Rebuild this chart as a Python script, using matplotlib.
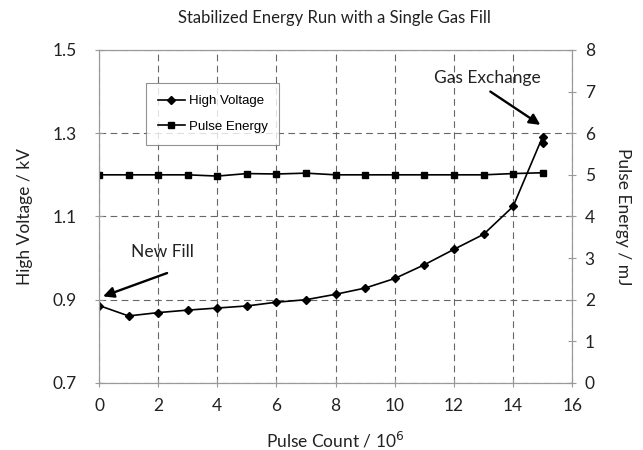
import matplotlib.pyplot as plt

# dados
pulsos = [0, 1, 2, 3, 4, 5, 6, 7, 8, 9, 10, 11, 12, 13, 14, 15, 15]
alta_tensao = [0.886, 0.861, 0.869, 0.875, 0.880, 0.885, 0.894, 0.900, 0.913,
               0.928, 0.951, 0.984, 1.021, 1.057, 1.124, 1.292, 1.277]

pulsos_e = [0, 1, 2, 3, 4, 5, 6, 7, 8, 9, 10, 11, 12, 13, 14, 15]
energia = [5.0, 5.0, 5.0, 5.0, 4.97, 5.03, 5.02, 5.04, 5.0, 5.0, 5.0, 5.0,
           5.0, 5.0, 5.03, 5.05]

plt.rcParams['font.family'] = ['Lato', 'DejaVu Sans']

fig = plt.figure(figsize=(6.43, 4.5), dpi=100)
ax = fig.add_axes([0.154, 0.149, 0.736, 0.74])
ax2 = ax.twinx()

cinza = '#999999'
texto = '#222222'

l1, = ax.plot(pulsos, alta_tensao, color='black', lw=1.2, marker='D', ms=4,
              label='High Voltage')
l2, = ax2.plot(pulsos_e, energia, color='black', lw=1.2, marker='s', ms=5,
               label='Pulse Energy')

ax.set_xlim(0, 16)
ax.set_ylim(0.7, 1.5)
ax2.set_ylim(0, 8)
ax.set_xticks(range(0, 17, 2))
ax.set_yticks([0.7, 0.9, 1.1, 1.3, 1.5])
ax2.set_yticks(range(0, 9))

ax.grid(True, color='#666666', ls=(0, (6, 4)), lw=0.8)
ax.set_axisbelow(True)

for a in (ax, ax2):
    for s in a.spines.values():
        s.set_color(cinza)
    a.tick_params(colors=cinza, labelcolor=texto, labelsize=12.5,
                  direction='inout', length=6)
ax.tick_params(axis='x', pad=8)
ax.tick_params(axis='y', pad=13)
ax2.tick_params(axis='y', pad=6)

ax.set_xlabel('Pulse Count / 10$^6$', fontsize=12.5, color=texto, labelpad=12)
ax.set_ylabel('High Voltage / kV', fontsize=12.5, color=texto, labelpad=14)
ax2.set_ylabel('Pulse Energy / mJ', fontsize=12.5, color=texto,
               rotation=270, labelpad=26)
fig.text(0.52, 0.96, 'Stabilized Energy Run with a Single Gas Fill',
         ha='center', va='center', fontsize=12, color=texto)

leg = ax.legend(handles=[l1, l2], loc='upper left',
                bbox_to_anchor=(0.1, 0.9), frameon=True,
                fancybox=False, edgecolor='#777777', handlelength=2.0,
                borderpad=0.9, labelspacing=1.0, handletextpad=0.3,
                borderaxespad=0,
                prop={'family': 'Liberation Sans', 'size': 9.5})
leg.get_frame().set_linewidth(0.8)

# anotações: texto e seta separados
seta = dict(arrowstyle='-|>', color='black', lw=1.7, mutation_scale=16,
            shrinkA=0, shrinkB=0)
ax.text(13.12, 1.432, 'Gas Exchange', fontsize=12.5, ha='center',
        va='center', color=texto)
ax.annotate('', xy=(14.92, 1.32), xytext=(13.23, 1.40), arrowprops=seta)
ax.text(2.13, 1.015, 'New Fill', fontsize=12.5, ha='center', va='center',
        color=texto)
ax.annotate('', xy=(0.135, 0.908), xytext=(2.30, 0.964), arrowprops=seta)

fig.savefig('out.png', dpi=100)
